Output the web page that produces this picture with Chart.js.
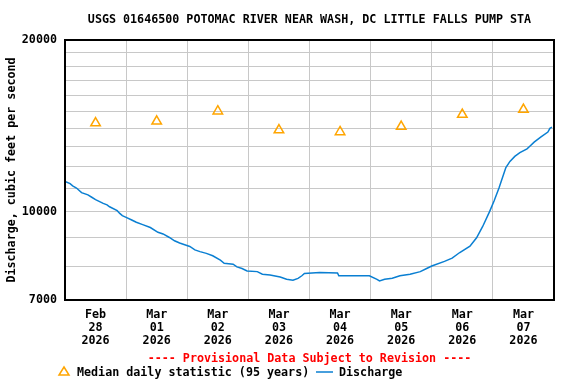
<!DOCTYPE html>
<html lang="en">
<head>
<meta charset="UTF-8">
<title>USGS 01646500 Potomac River - Discharge</title>
<script src="https://cdn.jsdelivr.net/npm/chart.js"></script>
<style>
    body { margin: 0; background: #fff; }
    canvas { display: block; }
</style>
</head>
<body>
<canvas id="flowChart" width="576" height="384"></canvas>
<script>
// hours since Feb 28 2026 00:00
const dischargeHours = [0, 2, 3, 4.5, 6.5, 9, 10.5, 12, 15, 16.5, 17.5, 20.5, 21.5, 22.5,
    24, 26, 28, 30.5, 33.5, 36.5, 38.5, 41, 43, 45, 47,
    49, 51, 53, 55.5, 58, 61, 62.5, 66, 67.5, 69.5, 71.5,
    75.5, 77.5, 80.5, 84.5, 87, 89.5, 91.5, 93, 94,
    100, 107, 107.5, 114, 119.5,
    122.5, 123.5, 125.5, 128.5, 131.5, 135.5, 139.5, 142,
    144, 149, 152, 155, 159, 161.6, 164, 166.7, 168.5,
    170.4, 173.1, 174.7, 176.6, 178.6, 181.4, 182.3, 184.2, 186.9, 189.6, 190.4, 191.2];
const dischargeCfs = [11300, 11200, 11100, 11000, 10800, 10700, 10600, 10500, 10340, 10280, 10200, 10040, 9930, 9840,
    9770, 9680, 9580, 9490, 9380, 9200, 9140, 9010, 8890, 8810, 8750,
    8690, 8570, 8510, 8450, 8370, 8220, 8120, 8090, 8000, 7950, 7870,
    7850, 7770, 7740, 7680, 7610, 7580, 7640, 7720, 7790,
    7820, 7810, 7720, 7720, 7720,
    7610, 7560, 7610, 7640, 7720, 7770, 7850, 7950,
    8030, 8180, 8290, 8480, 8700, 9000, 9420, 10000, 10450,
    11000, 11950, 12250, 12500, 12690, 12890, 13000, 13240, 13520, 13790, 14000, 14070];

const medianHours = [12, 36, 60, 84, 108, 132, 156, 180];
const medianCfs = [14300, 14400, 15000, 13900, 13800, 14100, 14800, 15100];

const dayLabels = ['Feb 28 2026', 'Mar 01 2026', 'Mar 02 2026', 'Mar 03 2026',
    'Mar 04 2026', 'Mar 05 2026', 'Mar 06 2026', 'Mar 07 2026'];
const yTicks = [7000, 8000, 9000, 10000, 11000, 12000, 13000, 14000, 15000,
    16000, 17000, 18000, 19000, 20000];
const yLabels = [7000, 10000, 20000];

const titleText = 'USGS 01646500 POTOMAC RIVER NEAR WASH, DC LITTLE FALLS PUMP STA';
const noticeText = '---- Provisional Data Subject to Revision ----';

const monoFont = { family: 'DejaVu Sans Mono', size: 11.7, weight: 'bold' };
const fontCss = 'bold 11.7px "DejaVu Sans Mono"';
const orange = '#ffa500';
const blue = '#0a7fd2';

// title, frame, notice and legend drawn around the plot
const decor = {
    id: 'decor',
    afterDraw(chart) {
        const { ctx, chartArea: a } = chart;
        const mid = (a.left + a.right) / 2;
        ctx.save();
        ctx.strokeStyle = '#000';
        ctx.lineWidth = 2;
        ctx.strokeRect(a.left, a.top, a.right - a.left, a.bottom - a.top);

        ctx.font = fontCss;
        ctx.textBaseline = 'middle';
        ctx.textAlign = 'center';
        ctx.fillStyle = '#000';
        ctx.fillText(titleText, mid, 20);
        ctx.fillStyle = '#ff0000';
        ctx.fillText(noticeText, mid, 359);

        // legend
        const ly = 372;
        ctx.strokeStyle = orange;
        ctx.lineWidth = 1.5;
        ctx.beginPath();
        ctx.moveTo(64, ly - 5);
        ctx.lineTo(69, ly + 3);
        ctx.lineTo(59, ly + 3);
        ctx.closePath();
        ctx.stroke();
        ctx.textAlign = 'left';
        ctx.fillStyle = '#000';
        ctx.fillText(chart.data.datasets[0].label, 77, ly + 1);
        ctx.strokeStyle = blue;
        ctx.beginPath();
        ctx.moveTo(316, ly);
        ctx.lineTo(333, ly);
        ctx.stroke();
        ctx.fillText(chart.data.datasets[1].label, 339, ly + 1);
        ctx.restore();
    }
};

const ctx = document.getElementById('flowChart').getContext('2d');
new Chart(ctx, {
    type: 'line',
    data: {
        datasets: [{
            label: 'Median daily statistic (95 years)',
            data: medianHours.map((h, i) => ({ x: h, y: medianCfs[i] })),
            showLine: false,
            pointStyle: 'triangle',
            pointRadius: 5.5,
            pointBorderWidth: 1.5,
            pointBorderColor: orange,
            pointBackgroundColor: 'rgba(0,0,0,0)'
        }, {
            label: 'Discharge',
            data: dischargeHours.map((h, i) => ({ x: h, y: dischargeCfs[i] })),
            borderColor: blue,
            borderWidth: 1.5,
            pointRadius: 0,
            fill: false,
            tension: 0
        }]
    },
    options: {
        responsive: false,
        animation: false,
        layout: { padding: { top: 40, right: 22, bottom: 34, left: 0 } },
        plugins: {
            legend: { display: false },
            tooltip: { enabled: false }
        },
        scales: {
            x: {
                type: 'linear',
                min: 0,
                max: 192,
                afterBuildTicks: scale => {
                    const t = [];
                    for (let v = 0; v <= 192; v += 12) t.push({ value: v });
                    scale.ticks = t;
                },
                afterFit: scale => { scale.height = 50; },
                grid: {
                    color: c => (c.tick && c.tick.value % 24 === 0) ? '#c8c8c8' : 'rgba(0,0,0,0)',
                    drawTicks: false
                },
                border: { display: false },
                ticks: {
                    autoSkip: false,
                    maxRotation: 0,
                    padding: 8,
                    color: '#000',
                    font: { ...monoFont, lineHeight: 1.12 },
                    callback: v => (v % 24 === 12) ? dayLabels[(v - 12) / 24].split(' ') : ''
                }
            },
            y: {
                type: 'logarithmic',
                min: 7000,
                max: 20000,
                afterBuildTicks: scale => {
                    scale.ticks = yTicks.map(v => ({ value: v }));
                },
                afterFit: scale => { scale.width = 65; },
                grid: { color: '#c8c8c8', drawTicks: false },
                border: { display: false },
                ticks: {
                    autoSkip: false,
                    padding: 8,
                    color: '#000',
                    font: monoFont,
                    callback: v => yLabels.includes(v) ? String(v) : ''
                },
                title: {
                    display: true,
                    text: 'Discharge, cubic feet per second',
                    color: '#000',
                    font: monoFont,
                    padding: { top: 5, bottom: 0 }
                }
            }
        }
    },
    plugins: [decor]
});
</script>
</body>
</html>
